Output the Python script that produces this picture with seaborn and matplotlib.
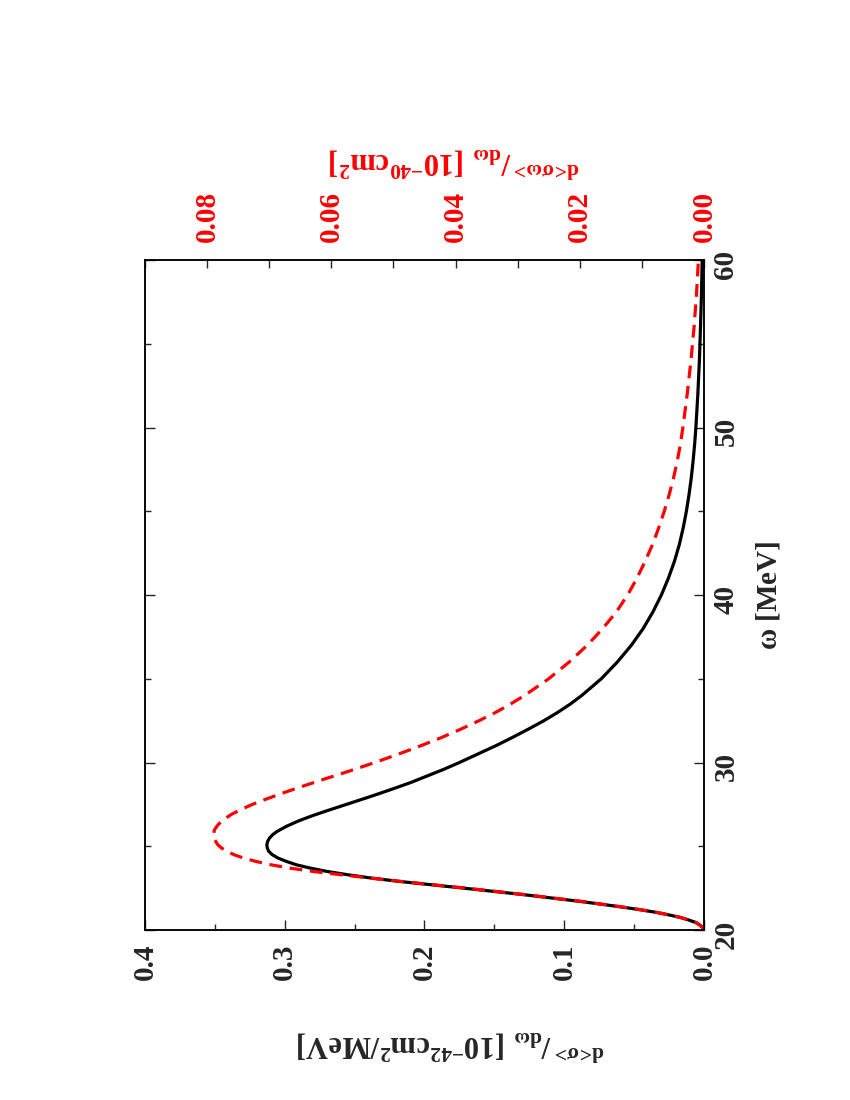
import matplotlib
matplotlib.use("Agg")
import matplotlib.pyplot as plt
import seaborn as sns
import pandas as pd
from matplotlib.ticker import MultipleLocator, FormatStrFormatter

# --- data (omega in MeV) ---
omega_black = [20.0, 20.15, 20.3, 20.45, 20.6, 20.75, 20.9, 21.05, 21.2, 21.35, 21.5, 21.7,
               21.9, 22.1, 22.3, 22.5, 22.7, 22.9, 23.1, 23.3, 23.5, 23.7, 23.9, 24.1,
               24.3, 24.5, 24.7, 24.9, 25.1, 25.3, 25.5, 25.7, 25.9, 26.2, 26.5, 26.8,
               27.1, 27.4, 27.7, 28.0, 28.4, 28.8, 29.2, 29.6, 30.0, 30.5, 31.0, 31.5,
               32.0, 32.5, 33.0, 33.5, 34.0, 35.0, 36.0, 37.0, 38.0, 39.0, 40.0, 41.0,
               42.0, 43.0, 44.0, 45.0, 46.0, 47.0, 48.0, 49.0, 50.0, 52.0, 54.0, 56.0,
               58.0, 60.0]
dsigma_black = [0.000, 0.001, 0.003, 0.006, 0.011, 0.017, 0.025, 0.034, 0.045, 0.057, 0.070, 0.088,
                0.108, 0.128, 0.150, 0.172, 0.195, 0.218, 0.238, 0.255, 0.270, 0.282, 0.292, 0.299,
                0.305, 0.309, 0.3115, 0.3125, 0.3128, 0.3122, 0.3108, 0.3085, 0.3052, 0.2985, 0.2905, 0.281,
                0.2705, 0.2595, 0.2485, 0.2375, 0.2235, 0.210, 0.198, 0.186, 0.175, 0.162, 0.149, 0.137,
                0.1255, 0.1145, 0.1045, 0.0955, 0.0875, 0.0735, 0.0620, 0.0520, 0.0435, 0.0365, 0.0305, 0.0255,
                0.0212, 0.0177, 0.0149, 0.0126, 0.0107, 0.0091, 0.0078, 0.0067, 0.0058, 0.0044, 0.0033, 0.0025,
                0.0018, 0.0013]

omega_red = [20.0, 20.15, 20.3, 20.45, 20.6, 20.75, 20.9, 21.05, 21.2, 21.35, 21.5, 21.7,
             21.9, 22.1, 22.3, 22.5, 22.7, 22.9, 23.1, 23.3, 23.5, 23.7, 23.9, 24.1,
             24.3, 24.5, 24.7, 24.9, 25.1, 25.4, 25.7, 26.0, 26.3, 26.6, 26.9, 27.2,
             27.5, 27.8, 28.1, 28.5, 29.0, 29.5, 30.0, 30.5, 31.0, 31.5, 32.0, 32.5,
             33.0, 33.5, 34.0, 35.0, 36.0, 37.0, 38.0, 39.0, 40.0, 41.0, 42.0, 43.0,
             44.0, 45.0, 46.0, 47.0, 48.0, 49.0, 50.0, 52.0, 54.0, 56.0, 58.0, 60.0]
dsigw_red = [0.0000, 0.0002, 0.0007, 0.0013, 0.0025, 0.0038, 0.0056, 0.0076, 0.0100, 0.0127, 0.0156, 0.0196,
             0.0241, 0.0286, 0.0334, 0.0384, 0.0436, 0.0488, 0.0537, 0.0585, 0.0630, 0.0668, 0.0698, 0.0722,
             0.0742, 0.0757, 0.0768, 0.0777, 0.0783, 0.0788, 0.0790, 0.0788, 0.0782, 0.0773, 0.0761, 0.0745,
             0.0727, 0.0706, 0.0684, 0.0653, 0.0612, 0.0570, 0.0530, 0.0492, 0.0456, 0.0422, 0.0391, 0.0362,
             0.0335, 0.0311, 0.0289, 0.0250, 0.0217, 0.0188, 0.0163, 0.0141, 0.0123, 0.0108, 0.0095, 0.0083,
             0.0073, 0.0064, 0.0056, 0.0049, 0.0043, 0.0038, 0.0034, 0.0027, 0.0021, 0.0016, 0.0012, 0.0009]

black_ticks = [0.0, 0.1, 0.2, 0.3, 0.4]
red_ticks = [0.00, 0.02, 0.04, 0.06, 0.08]
omega_ticks = [20, 30, 40, 50, 60]

sns.set_style("white")
plt.rcParams["font.family"] = ["Liberation Serif", "DejaVu Serif"]
plt.rcParams["font.weight"] = "bold"
plt.rcParams["mathtext.fontset"] = "custom"
plt.rcParams["mathtext.rm"] = "Liberation Serif:bold"
plt.rcParams["mathtext.it"] = "Liberation Serif:bold"
plt.rcParams["mathtext.bf"] = "Liberation Serif:bold"

W, H = 850, 1100
fig = plt.figure(figsize=(8.5, 11), dpi=100)
L, R, T, B = 145, 704, 260, 930
ax = fig.add_axes([L / W, 1 - B / H, (R - L) / W, (B - T) / H])

df_b = pd.DataFrame({"omega": omega_black, "val": dsigma_black})
df_r = pd.DataFrame({"omega": omega_red, "val": dsigw_red})

sns.lineplot(data=df_b, x="val", y="omega", orient="y", sort=False, estimator=None,
             color="black", lw=2.3, ax=ax)
ax.set_xlim(0.4, 0.0)
ax.set_ylim(20, 60)

ax2 = ax.twiny()
sns.lineplot(data=df_r, x="val", y="omega", orient="y", sort=False, estimator=None,
             color="red", lw=2.3, linestyle=(0, (4, 2.4)), ax=ax2)
ax2.set_xlim(0.09, 0.0)
ax2.set_ylim(20, 60)

for a in (ax, ax2):
    a.set_xlabel("")
    a.set_ylabel("")
    for s in a.spines.values():
        s.set_linewidth(1.1)
        s.set_color("black")

fs = 21
ax.set_xticks(black_ticks)
ax.xaxis.set_minor_locator(MultipleLocator(0.05))
ax.xaxis.set_major_formatter(FormatStrFormatter("%.1f"))
ax.tick_params(axis="x", which="both", direction="in", bottom=True, top=False,
               labelbottom=True, labeltop=False, labelrotation=90, labelsize=fs, pad=10)
ax.tick_params(axis="x", which="major", length=7, width=1)
ax.tick_params(axis="x", which="minor", length=4, width=1)

ax.set_yticks(omega_ticks)
ax.yaxis.set_minor_locator(MultipleLocator(5))
ax.tick_params(axis="y", which="both", direction="in", left=True, right=True,
               labelleft=False, labelright=True, labelrotation=90, labelsize=fs, pad=6)
ax.tick_params(axis="y", which="major", length=7, width=1)
ax.tick_params(axis="y", which="minor", length=4, width=1)

ax2.set_xticks(red_ticks)
ax2.xaxis.set_minor_locator(MultipleLocator(0.01))
ax2.xaxis.set_major_formatter(FormatStrFormatter("%.2f"))
ax2.tick_params(axis="x", which="both", direction="in", top=True, bottom=False,
                labeltop=True, labelbottom=False, labelrotation=90, labelsize=fs,
                labelcolor="red", pad=13, length=6, width=1)

for lab in ax.get_xticklabels() + ax.get_yticklabels() + ax2.get_xticklabels():
    lab.set_fontweight("bold")

fig.text(768 / W, 1 - 595 / H, r"$\omega$ [MeV]", rotation=90, ha="center", va="center",
         fontsize=fs, fontweight="bold")
fig.text(451 / W, 1 - 1045 / H,
         r"$^{\mathrm{d}\!<\!\sigma\!>}/_{\mathrm{d}\omega}\ [\mathrm{10^{-42}cm^2/MeV}]$",
         rotation=180, ha="center", va="center", fontsize=22)
fig.text(455 / W, 1 - 162 / H,
         r"$^{\mathrm{d}\!<\!\sigma\omega\!>}/_{\mathrm{d}\omega}\ [\mathrm{10^{-40}cm^2}]$",
         rotation=180, ha="center", va="center", fontsize=22, color="red")

fig.savefig("out.png", dpi=100, facecolor="white")
